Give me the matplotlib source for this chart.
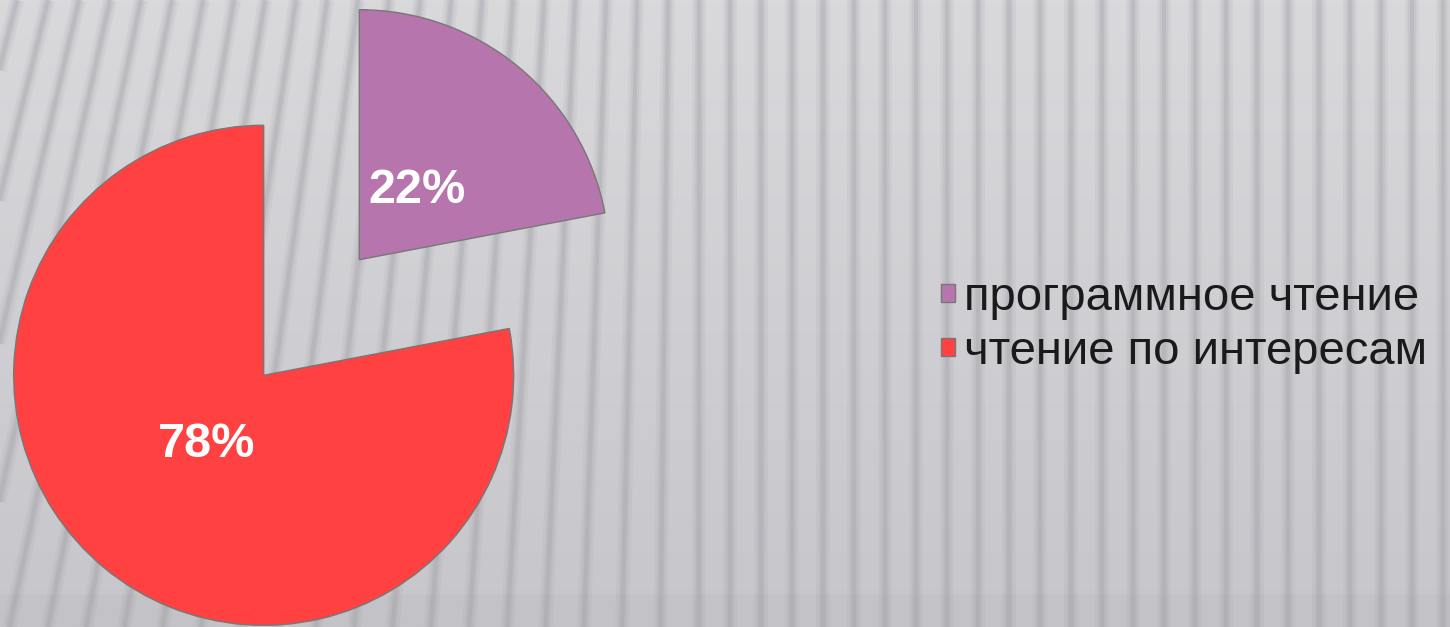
import numpy as np
import matplotlib.pyplot as plt

labels = ['программное чтение', 'чтение по интересам']
values = [22, 78]
colors = ['#b775ad', '#ff4141']

W, H = 1450, 627
R = 250
fig = plt.figure(figsize=(W / 100, H / 100), dpi=100)

# background: grey gradient with soft stripes (slanted on the left)
bg = fig.add_axes([0, 0, 1, 1])
grad = np.linspace(0, 1, 200)[:, None]
top = np.array([217, 217, 220]) / 255
bot = np.array([198, 198, 203]) / 255
img = top + (bot - top) * grad[..., None]
bg.imshow(np.repeat(img, 2, axis=1), extent=[0, W, H, 0], aspect='auto')
for x0 in np.arange(-200, W + 40, 31):
    slant = 0.3 * max(0.0, 1 - (x0 + 100) / 800)
    ys = np.linspace(0, H, 40)
    xs = x0 - slant * ys
    for lw, a in [(10, 0.12), (6, 0.18), (3, 0.25)]:
        bg.plot(xs, ys, color='#9e9ea4', lw=lw, alpha=a, solid_capstyle='butt')
bg.axhspan(595, H, color='#b9b9be', alpha=0.3, lw=0)
bg.set_xlim(0, W)
bg.set_ylim(H, 0)
bg.axis('off')

ax = fig.add_axes([0, 0, 1, 1])
ax.patch.set_alpha(0)
wedges, texts, autotexts = ax.pie(
    values, colors=colors, startangle=90, counterclock=False,
    explode=[0.3 * R, 0.3 * R], center=(311.5, H - 317.5), radius=R,
    autopct='%1.0f%%', pctdistance=0.36,
    wedgeprops=dict(edgecolor='#777777', linewidth=1),
    textprops=dict(color='white', fontsize=35, fontweight='bold',
                   family='Liberation Sans'))
ax.set_xlim(0, W)
ax.set_ylim(0, H)
ax.set_aspect('auto')
ax.axis('off')

leg = ax.legend(wedges, labels, loc='center left',
                bbox_to_anchor=(917 / W, 1 - 325 / H), bbox_transform=fig.transFigure,
                frameon=False, borderpad=0, handlelength=0.3, handleheight=0.2,
                handletextpad=0.2, labelspacing=0.22,
                prop=dict(family='Liberation Sans', size=34))
for t in leg.get_texts():
    t.set_color('#1a1a1a')

fig.savefig('out.png', dpi=100)
